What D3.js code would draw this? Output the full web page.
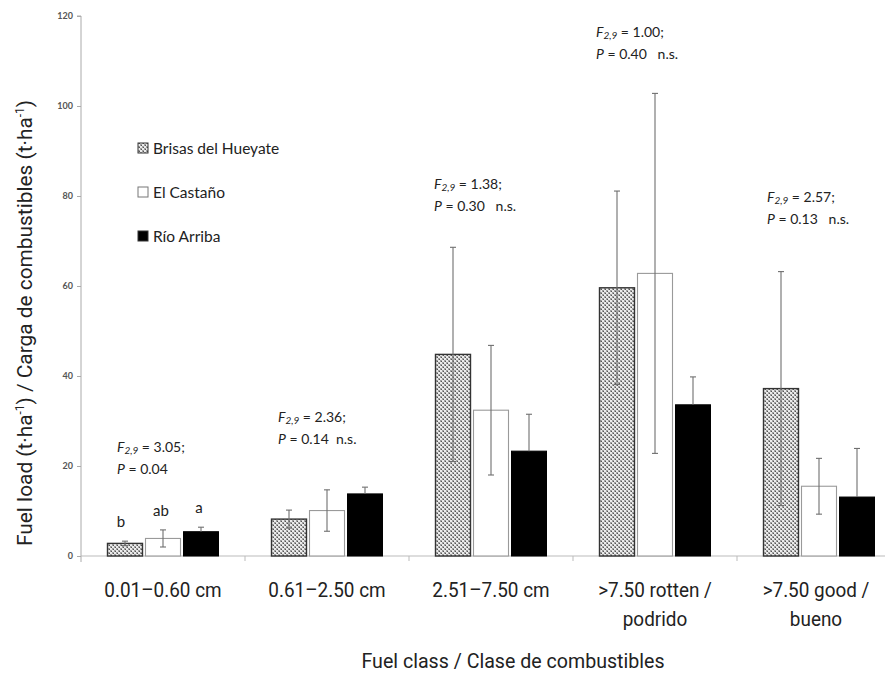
<!DOCTYPE html>
<html>
<head>
<meta charset="utf-8">
<script src="https://cdn.jsdelivr.net/npm/d3@7"></script>
<style>
  html, body { margin: 0; padding: 0; background: #fff; }
  svg { display: block; }
  .narrow { font-family: Roboto, 'Liberation Sans', sans-serif; }
  .cal { font-family: Lato, 'Open Sans', sans-serif; }
</style>
</head>
<body>
<svg id="chart" width="885" height="673"></svg>
<script>
// ---- data ----
const categories = ["0.01–0.60 cm", "0.61–2.50 cm", "2.51–7.50 cm", ">7.50 rotten / podrido", ">7.50 good / bueno"];
const categoryLines = [["0.01–0.60 cm"], ["0.61–2.50 cm"], ["2.51–7.50 cm"], [">7.50 rotten /", "podrido"], [">7.50 good /", "bueno"]];
const series = ["Brisas del Hueyate", "El Castaño", "Río Arriba"];
const brisasMean   = [2.8, 8.2, 44.8, 59.6, 37.2];
const brisasErr    = [0.5, 2.0, 23.8, 21.5, 26.0];
const castanoMean  = [3.9, 10.1, 32.4, 62.8, 15.5];
const castanoErr   = [1.9, 4.6, 14.4, 40.0, 6.2];
const rioMean      = [5.4, 13.8, 23.3, 33.6, 13.1];
const rioErr       = [1.0, 1.5, 8.2, 6.2, 10.8];
const yTicks = [0, 20, 40, 60, 80, 100, 120];
const fStats = ["3.05;", "2.36;", "1.38;", "1.00;", "2.57;"];
const pStats = ["0.04", "0.14", "0.30", "0.40", "0.13"];
const nsLabels = ["", "  n.s.", "   n.s.", "   n.s.", "   n.s."];
const groupLetters = ["b", "ab", "a"];

const means = [brisasMean, castanoMean, rioMean];
const errs = [brisasErr, castanoErr, rioErr];

const svg = d3.select("#chart");
const x0 = 81, plotTop = 16, plotBottom = 556;

// pattern for Brisas (fine gray crosshatch)
const defs = svg.append("defs");
const pat = defs.append("pattern").attr("id", "hatch").attr("patternUnits", "userSpaceOnUse")
  .attr("width", 4).attr("height", 4);
pat.append("rect").attr("width", 4).attr("height", 4).attr("fill", "#ececec");
pat.append("rect").attr("x", 0).attr("y", 0).attr("width", 2).attr("height", 2).attr("fill", "#a0a0a0");
pat.append("rect").attr("x", 2).attr("y", 2).attr("width", 2).attr("height", 2).attr("fill", "#a0a0a0");
pat.append("rect").attr("x", 1).attr("y", 1).attr("width", 1).attr("height", 1).attr("fill", "#555");
pat.append("rect").attr("x", 3).attr("y", 3).attr("width", 1).attr("height", 1).attr("fill", "#555");

const xScale = d3.scaleBand().domain(categories).range([x0, x0 + 164 * 5]).padding(0);
const xSub = d3.scaleBand().domain(series).range([-55.5, 55.5]).paddingInner(3 / 38).paddingOuter(0);
const yScale = d3.scaleLinear().domain([0, 120]).range([plotBottom, plotTop]);

const fills = ["url(#hatch)", "#ffffff", "#000000"];
const strokes = ["#333", "#9a9a9a", "#000"];
const strokeW = [1.4, 1.1, 1];

// axes
const yAxis = d3.axisLeft(yScale).tickValues(yTicks).tickSize(4).tickPadding(4);
const gy = svg.append("g").attr("transform", `translate(${x0},0)`).call(yAxis);
gy.select(".domain").attr("stroke", "#aaa").attr("d", `M-4,${plotTop}H0V${plotBottom + 6}`);
gy.selectAll(".tick line").attr("stroke", "#aaa");
gy.selectAll(".tick text").attr("class", "cal").attr("font-size", 9).attr("fill", "#555").attr("font-weight", "bold");

const xAxis = d3.axisBottom(xScale).tickSize(0).tickFormat("");
const gx = svg.append("g").attr("transform", `translate(0,${plotBottom})`).call(xAxis);
gx.select(".domain").attr("stroke", "#bbb").attr("d", `M${x0},0H${x0 + 164 * 5}`);
gx.selectAll(".bound").data(categories.slice(1)).enter().append("line")
  .attr("x1", d => xScale(d)).attr("x2", d => xScale(d)).attr("y1", 0).attr("y2", 5).attr("stroke", "#bbb");

// condense helper
function condense(sel, factor) {
  sel.each(function () {
    const n = this.getComputedTextLength();
    d3.select(this).attr("textLength", n * factor).attr("lengthAdjust", "spacingAndGlyphs");
  });
}

// x tick labels
categories.forEach((c, i) => {
  const cx = xScale(c) + xScale.bandwidth() / 2 - (i === 4 ? 3 : 0);
  categoryLines[i].forEach((ln, j) => {
    const t = svg.append("text").attr("class", "narrow").attr("text-anchor", "middle")
      .attr("font-size", 21).attr("fill", "#222").attr("x", cx).attr("y", 597 + j * 29).text(ln);
    condense(t, 0.9);
  });
});

// bars
series.forEach((s, si) => {
  const g = svg.append("g");
  const data = categories.map((c, ci) => ({ c, v: means[si][ci], e: errs[si][ci] }));
  g.selectAll("rect").data(data).enter().append("rect")
    .attr("x", d => xScale(d.c) + xScale.bandwidth() / 2 + xSub(s))
    .attr("y", d => yScale(d.v))
    .attr("width", xSub.bandwidth())
    .attr("height", d => yScale(0) - yScale(d.v))
    .attr("fill", fills[si]).attr("stroke", strokes[si]).attr("stroke-width", strokeW[si]);
});

// error bars (Río Arriba whiskers hidden within the black bar)
series.forEach((s, si) => {
  const g = svg.append("g").attr("stroke", "#6f6f6f").attr("stroke-width", 1.1);
  categories.forEach((c, ci) => {
    const cx = xScale(c) + xScale.bandwidth() / 2 + xSub(s) + xSub.bandwidth() / 2;
    const v = means[si][ci], e = errs[si][ci];
    const yt = yScale(v + e);
    const yb = si === 2 ? yScale(v) : yScale(Math.max(0, v - e));
    g.append("line").attr("x1", cx).attr("x2", cx).attr("y1", yt).attr("y2", yb);
    g.append("line").attr("x1", cx - 3).attr("x2", cx + 3).attr("y1", yt).attr("y2", yt);
    if (si !== 2) g.append("line").attr("x1", cx - 3).attr("x2", cx + 3).attr("y1", yb).attr("y2", yb);
  });
});

// group letters for first category
series.forEach((s, si) => {
  const c = categories[0];
  const cx = xScale(c) + xScale.bandwidth() / 2 + xSub(s) + xSub.bandwidth() / 2;
  const top = means[si][0] + errs[si][0];
  svg.append("text").attr("class", "cal").attr("text-anchor", "middle").attr("font-size", 15)
    .attr("fill", "#222").attr("x", cx - (si === 0 ? 4 : 2)).attr("y", yScale(top) - 14).text(groupLetters[si]);
});

// statistics annotations
const annoX = [117, 278, 434, 596, 767];
const annoY = [452, 422, 189, 37, 202];
categories.forEach((c, ci) => {
  const t1 = svg.append("text").attr("class", "cal").attr("font-size", 14).attr("fill", "#222")
    .attr("x", annoX[ci]).attr("y", annoY[ci]);
  t1.append("tspan").attr("font-style", "italic").text("F");
  t1.append("tspan").attr("font-style", "italic").attr("font-size", 10).attr("dy", 1.5).text("2,9");
  t1.append("tspan").attr("dy", -1.5).text(" = " + fStats[ci]);
  const t2 = svg.append("text").attr("class", "cal").attr("font-size", 14).attr("fill", "#222")
    .attr("x", annoX[ci]).attr("y", annoY[ci] + 22).attr("xml:space", "preserve");
  t2.append("tspan").attr("font-style", "italic").text("P");
  t2.append("tspan").text(" = " + pStats[ci] + nsLabels[ci]);
});

// legend
const legY = [148, 192, 236];
series.forEach((s, si) => {
  svg.append("rect").attr("x", 138).attr("y", legY[si] - 5).attr("width", 10).attr("height", 10)
    .attr("fill", fills[si]).attr("stroke", si === 1 ? "#777" : "#333").attr("stroke-width", 1);
  svg.append("text").attr("class", "cal").attr("font-size", 15.5).attr("fill", "#222")
    .attr("x", 153).attr("y", legY[si] + 5.5).text(s);
});

// axis titles
const yt = svg.append("text").attr("class", "narrow").attr("font-size", 21).attr("fill", "#222")
  .attr("text-anchor", "start").attr("transform", "translate(32,546) rotate(-90)");
yt.append("tspan").text("Fuel load (t·ha");
yt.append("tspan").attr("font-size", 12).attr("dy", -8).text("-1");
yt.append("tspan").attr("dy", 8).text(") / Carga de combustibles (t·ha");
yt.append("tspan").attr("font-size", 12).attr("dy", -8).text("-1");
yt.append("tspan").attr("dy", 8).text(")");
yt.attr("textLength", 446).attr("lengthAdjust", "spacingAndGlyphs");

const xt = svg.append("text").attr("class", "narrow").attr("font-size", 21).attr("fill", "#222")
  .attr("text-anchor", "middle").attr("x", 513).attr("y", 668).text("Fuel class / Clase de combustibles");
xt.attr("textLength", 303).attr("lengthAdjust", "spacingAndGlyphs");
</script>
</body>
</html>
